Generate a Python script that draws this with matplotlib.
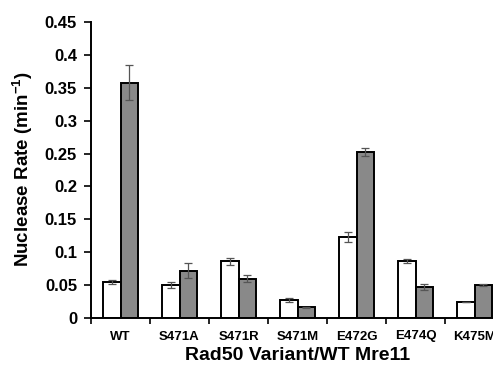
import matplotlib
matplotlib.use("Agg")
import matplotlib.pyplot as plt
import numpy as np

categories = ["WT", "S471A", "S471R", "S471M", "E472G", "E474Q", "K475M"]
white_vals = [0.055, 0.050, 0.086, 0.028, 0.123, 0.087, 0.024]
white_err = [0.003, 0.004, 0.005, 0.003, 0.008, 0.003, 0.0]
gray_vals = [0.358, 0.072, 0.060, 0.016, 0.253, 0.047, 0.050]
gray_err = [0.026, 0.011, 0.006, 0.001, 0.006, 0.004, 0.0015]
yticks = [0, 0.05, 0.1, 0.15, 0.2, 0.25, 0.3, 0.35, 0.4, 0.45]
ytick_labels = ["0", "0.05", "0.1", "0.15", "0.2", "0.25", "0.3", "0.35", "0.4", "0.45"]

LBL = "Liberation Sans"
plt.rcParams["mathtext.fontset"] = "custom"
plt.rcParams["mathtext.bf"] = "Liberation Sans:bold"
plt.rcParams["mathtext.rm"] = "Liberation Sans:bold"
plt.rcParams["mathtext.default"] = "bf"

W, H = 493, 369
fig = plt.figure(figsize=(W / 100, H / 100), dpi=100)
ax = fig.add_axes([91 / W, 1 - 318 / H, 413 / W, 296 / H])

x = np.arange(len(categories))
bw = 0.29
ekw = dict(ecolor="#555555", elinewidth=0.9, capsize=3, capthick=0.9)
ax.bar(x - bw / 2, white_vals, bw, color="white", edgecolor="black", linewidth=1.4,
       yerr=white_err, error_kw=ekw, zorder=2)
ax.bar(x + bw / 2, gray_vals, bw, color="#898989", edgecolor="black", linewidth=1.4,
       yerr=gray_err, error_kw=ekw, zorder=2)

ax.set_xlim(-0.5, len(categories) - 0.5)
ax.set_ylim(0, 0.45)
ax.set_yticks(yticks)
ax.set_yticklabels(ytick_labels, fontfamily=LBL, fontweight="bold", fontsize=12)
ax.set_xticks(x)
ax.set_xticklabels(categories, fontfamily=LBL, fontweight="bold", fontsize=9.5)
ax.set_xticks(np.arange(len(categories) + 1) - 0.5, minor=True)
ax.tick_params(axis="x", which="major", length=0, pad=9)
ax.tick_params(axis="x", which="minor", length=4, width=1.2, direction="out")
ax.tick_params(axis="y", which="major", length=5, width=1.2, direction="out", pad=5)

for s in ["top", "right"]:
    ax.spines[s].set_visible(False)
for s in ["left", "bottom"]:
    ax.spines[s].set_linewidth(1.4)

fig.text(23 / W, 1 - 169 / H, "Nuclease Rate (min$^{-1}$)", rotation=90,
         ha="center", va="center", fontfamily=LBL, fontweight="bold", fontsize=13.5)
fig.text(298 / W, 1 - 356 / H, "Rad50 Variant/WT Mre11", ha="center", va="center",
         fontfamily=LBL, fontweight="bold", fontsize=14)

fig.savefig("out.png", dpi=100)
